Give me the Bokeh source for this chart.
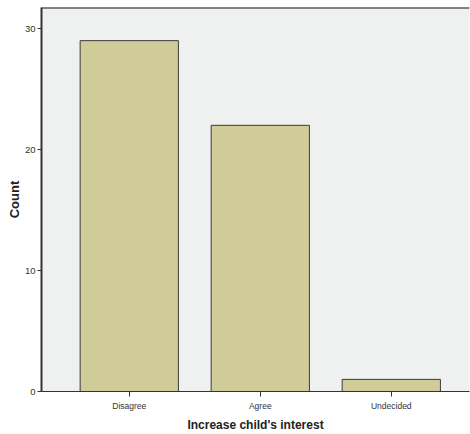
from bokeh.plotting import figure
from bokeh.models import FixedTicker, Range1d, Span, ColumnDataSource
from bokeh.embed import file_html
from bokeh.resources import INLINE

categories = ["Disagree", "Agree", "Undecided"]
counts = [29, 22, 1]
y_ticks = [0, 10, 20, 30]

xs = list(range(len(categories)))
src = ColumnDataSource(dict(x=xs, top=counts))

FONT = "Liberation Sans"
Y_TOP = 31.74

p = figure(frame_width=428, frame_height=384, output_backend="svg", toolbar_location=None,
           x_range=Range1d(-0.67, 2.597), y_range=Range1d(0, Y_TOP),
           min_border_left=41, min_border_right=1, min_border_top=7, min_border_bottom=43)

p.background_fill_color = "#EFF0F0"
p.border_fill_color = "white"
p.outline_line_color = None

p.vbar(x="x", top="top", width=0.75, bottom=0, source=src,
       fill_color="#D0CC9A", line_color="#3A3A3A", line_width=1)

p.add_layout(Span(location=Y_TOP, dimension="width", line_color="#111111", line_width=2))

p.xgrid.grid_line_color = None
p.ygrid.grid_line_color = None

p.xaxis.ticker = FixedTicker(ticks=xs)
p.xaxis.major_label_overrides = {i: c for i, c in zip(xs, categories)}
p.xaxis.minor_tick_line_color = None
p.xaxis.major_tick_out = 5
p.xaxis.major_tick_in = 0
p.xaxis.axis_line_color = "#333333"
p.xaxis.major_tick_line_color = "#333333"
p.xaxis.major_label_text_font = FONT
p.xaxis.major_label_text_font_size = "8.5px"
p.xaxis.major_label_text_color = "#333333"
p.xaxis.major_label_standoff = 4
p.xaxis.axis_label = "Increase child's interest"
p.xaxis.axis_label_text_font = FONT
p.xaxis.axis_label_text_font_size = "12px"
p.xaxis.axis_label_text_font_style = "bold"
p.xaxis.axis_label_text_color = "#222222"
p.xaxis.axis_label_standoff = 4

p.yaxis.ticker = FixedTicker(ticks=y_ticks)
p.yaxis.minor_tick_line_color = None
p.yaxis.major_tick_out = 4
p.yaxis.major_tick_in = 0
p.yaxis.axis_line_color = "#333333"
p.yaxis.axis_line_width = 2
p.yaxis.major_tick_line_color = "#333333"
p.yaxis.major_label_text_font = FONT
p.yaxis.major_label_text_font_size = "9.5px"
p.yaxis.major_label_text_color = "#333333"
p.yaxis.major_label_standoff = 2
p.yaxis.axis_label = "Count"
p.yaxis.axis_label_text_font = FONT
p.yaxis.axis_label_text_font_size = "13px"
p.yaxis.axis_label_text_font_style = "bold"
p.yaxis.axis_label_text_color = "#222222"
p.yaxis.axis_label_standoff = 0

open("out.html", "w").write(file_html(p, INLINE))
